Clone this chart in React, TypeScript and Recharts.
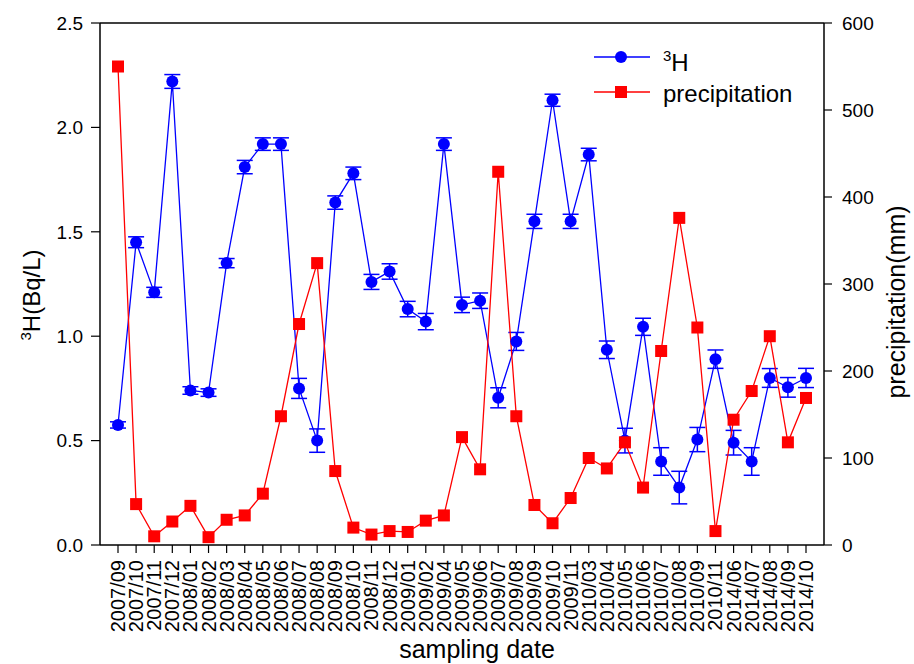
import React from 'react';
import { LineChart, Line, XAxis, YAxis, ErrorBar, ReferenceLine, Legend, Label } from 'recharts';

const dates = [
  '2007/09', '2007/10', '2007/11', '2007/12', '2008/01', '2008/02', '2008/03', '2008/04', '2008/05', '2008/06',
  '2008/07', '2008/08', '2008/09', '2008/10', '2008/11', '2008/12', '2009/01', '2009/02', '2009/04', '2009/05',
  '2009/06', '2009/07', '2009/08', '2009/09', '2009/10', '2009/11', '2010/03', '2010/04', '2010/05', '2010/06',
  '2010/07', '2010/08', '2010/09', '2010/11', '2014/06', '2014/07', '2014/08', '2014/09', '2014/10',
];

const tritium = [
  0.575, 1.45, 1.21, 2.22, 0.74, 0.73, 1.35, 1.81, 1.92, 1.92,
  0.75, 0.5, 1.64, 1.78, 1.26, 1.31, 1.13, 1.07, 1.92, 1.15,
  1.17, 0.705, 0.975, 1.55, 2.13, 1.55, 1.87, 0.935, 0.5, 1.045,
  0.4, 0.275, 0.505, 0.89, 0.49, 0.4, 0.8, 0.755, 0.8,
];

const tritiumErr = [
  0.015, 0.026, 0.024, 0.033, 0.018, 0.018, 0.022, 0.032, 0.03, 0.03,
  0.048, 0.056, 0.032, 0.03, 0.036, 0.037, 0.037, 0.039, 0.03, 0.037,
  0.037, 0.048, 0.043, 0.034, 0.029, 0.034, 0.03, 0.042, 0.059, 0.041,
  0.066, 0.078, 0.058, 0.044, 0.059, 0.066, 0.045, 0.047, 0.046,
];

const precipitation = [
  550, 47, 10, 27, 45, 9, 29, 34, 59, 148,
  254, 324, 85, 20, 12, 16, 15, 28, 34, 124,
  87, 429, 148, 46, 25, 54, 100, 88, 118, 66,
  223, 376, 250, 16, 144, 177, 240, 118, 169,
];

const leftTicks = [0, 0.5, 1.0, 1.5, 2.0, 2.5];
const rightTicks = [0, 100, 200, 300, 400, 500, 600];

const data = dates.map((d, i) => ({
  date: d,
  h3: tritium[i],
  h3Err: tritiumErr[i],
  precip: precipitation[i],
}));

const FONT = '"Liberation Sans", Arial, sans-serif';
const BLUE = '#0000ff';
const RED = '#ff0000';

const XTick = (props: any) => {
  const { x, y, payload } = props;
  return (
    <text
      x={x}
      y={y}
      transform={`rotate(-90, ${x}, ${y})`}
      textAnchor="end"
      dy="0.35em"
      fontSize={20}
      fontFamily={FONT}
      fill="#000"
    >
      {payload.value}
    </text>
  );
};

const SquareDot = (props: any) => {
  const { cx, cy, index } = props;
  if (cx == null || cy == null) return null;
  return <rect key={`sq-${index}`} x={cx - 6} y={cy - 6} width={12} height={12} fill={RED} />;
};

const LeftTitle = (props: any) => {
  const vb = props.viewBox || {};
  const x = 40;
  const y = (vb.y ?? 23) + (vb.height ?? 522) / 2 + 11;
  return (
    <text
      x={x}
      y={y}
      transform={`rotate(-90, ${x}, ${y})`}
      textAnchor="middle"
      fontSize={24}
      fontFamily={FONT}
      fill="#000"
    >
      <tspan fontSize={15} dy={-9}>3</tspan>
      <tspan dy={9}>H(Bq/L)</tspan>
    </text>
  );
};

const RightTitle = (props: any) => {
  const vb = props.viewBox || {};
  const x = 905;
  const y = (vb.y ?? 23) + (vb.height ?? 522) / 2 + 18;
  return (
    <text
      x={x}
      y={y}
      transform={`rotate(-90, ${x}, ${y})`}
      textAnchor="middle"
      fontSize={25}
      fontFamily={FONT}
      fill="#000"
    >
      precipitation(mm)
    </text>
  );
};

const BottomTitle = () => (
  <text x={477} y={658} textAnchor="middle" fontSize={25} fontFamily={FONT} fill="#000">
    sampling date
  </text>
);

const LegendContent = () => (
  <svg width={240} height={70} style={{ overflow: 'visible' }}>
    <line x1={0} y1={15} x2={56} y2={15} stroke={BLUE} strokeWidth={1.3} />
    <circle cx={27} cy={15} r={6} fill={BLUE} />
    <text x={69} y={29} fontSize={24} fontFamily={FONT} fill="#000">
      <tspan fontSize={15} dy={-10}>3</tspan>
      <tspan dy={10}>H</tspan>
    </text>
    <line x1={0} y1={50} x2={56} y2={50} stroke={RED} strokeWidth={1.3} />
    <rect x={21} y={44} width={12} height={12} fill={RED} />
    <text x={69} y={60} fontSize={24} fontFamily={FONT} fill="#000">
      precipitation
    </text>
  </svg>
);

export default function App() {
  return (
    <div style={{ position: 'absolute', left: 0, top: 0, width: 914, height: 664, background: '#fff' }}>
      <LineChart
        width={914}
        height={664}
        data={data}
        margin={{ top: 23, right: 30, bottom: 0, left: 40 }}
      >
        <XAxis
          dataKey="date"
          scale="point"
          padding={{ left: 18, right: 18 }}
          interval={0}
          height={119}
          tick={<XTick />}
          tickSize={8}
          tickMargin={7}
          axisLine={{ stroke: '#000', strokeWidth: 1.5 }}
          tickLine={{ stroke: '#000', strokeWidth: 1.2 }}
        >
          <Label content={<BottomTitle />} />
        </XAxis>
        <YAxis
          yAxisId="left"
          orientation="left"
          domain={[0, 2.5]}
          ticks={leftTicks}
          tickFormatter={(v: number) => v.toFixed(1)}
          width={60}
          tickSize={9}
          tickMargin={8}
          tick={{ fontSize: 19, fontFamily: FONT, fill: '#000' }}
          axisLine={{ stroke: '#000', strokeWidth: 1.5 }}
          tickLine={{ stroke: '#000', strokeWidth: 1.2 }}
        >
          <Label content={<LeftTitle />} />
        </YAxis>
        <YAxis
          yAxisId="right"
          orientation="right"
          domain={[0, 600]}
          ticks={rightTicks}
          width={60}
          tickSize={8}
          tickMargin={10}
          tick={{ fontSize: 19, fontFamily: FONT, fill: '#000' }}
          axisLine={{ stroke: '#000', strokeWidth: 1.5 }}
          tickLine={{ stroke: '#000', strokeWidth: 1.2 }}
        >
          <Label content={<RightTitle />} />
        </YAxis>
        <ReferenceLine yAxisId="left" y={2.5} stroke="#000" strokeWidth={1.5} />
        <Legend
          layout="horizontal"
          verticalAlign="middle"
          align="center"
          content={<LegendContent />}
          wrapperStyle={{ left: 594, top: 42, width: 240, height: 70 }}
        />
        <Line
          yAxisId="left"
          type="linear"
          dataKey="h3"
          stroke={BLUE}
          strokeWidth={1.3}
          dot={{ r: 6, fill: BLUE, stroke: 'none' }}
          activeDot={false}
          isAnimationActive={false}
        >
          <ErrorBar dataKey="h3Err" direction="y" width={8} stroke={BLUE} strokeWidth={1.5} isAnimationActive={false} />
        </Line>
        <Line
          yAxisId="right"
          type="linear"
          dataKey="precip"
          stroke={RED}
          strokeWidth={1.3}
          dot={<SquareDot />}
          activeDot={false}
          isAnimationActive={false}
        />
      </LineChart>
    </div>
  );
}
